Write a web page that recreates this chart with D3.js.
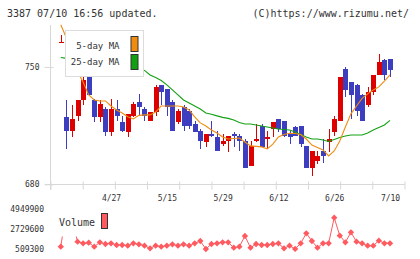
<!DOCTYPE html>
<html><head><meta charset="utf-8">
<script src="https://cdn.jsdelivr.net/npm/d3@7/dist/d3.min.js"></script>
<style>html,body{margin:0;padding:0;background:#fff;overflow:hidden}</style>
</head><body><svg id="c" width="420" height="259"></svg>
<script>
const dates = ["4/14","4/15","4/16","4/17","4/20","4/21","4/22","4/23","4/24","4/27",
  "4/28","4/30","5/1","5/7","5/8","5/11","5/12","5/13","5/14","5/15",
  "5/18","5/19","5/20","5/21","5/22","5/25","5/26","5/27","5/28","5/29",
  "6/1","6/2","6/3","6/4","6/5","6/8","6/9","6/10","6/11","6/12",
  "6/15","6/16","6/17","6/18","6/19","6/22","6/23","6/24","6/25","6/26",
  "6/29","6/30","7/1","7/2","7/3","7/6","7/7","7/8","7/9","7/10"];
const open  = [765,720,712,721,730,747,730,720,725,711,725,717,711,721,729,725,718,723,739,737,
  729,717,726,724,716,712,705,710,708,704,706,710,709,706,691,706,715,707,713,719,
  718,710,714,715,703,690,694,700,705,711,718,749,741,739,733,727,735,745,754,755];
const high  = [769,730,727,730,744,749,731,730,726,731,730,721,722,729,734,726,723,739,739,737,
  730,725,727,725,718,713,710,718,712,710,709,711,710,707,706,716,716,712,717,719,
  718,712,715,715,703,700,700,707,713,721,744,750,741,740,734,738,745,758,755,755];
const low   = [764,701,708,718,727,733,717,717,709,709,718,711,708,720,721,718,718,721,727,721,
  712,716,712,713,711,701,702,708,700,703,699,702,700,690,691,705,702,701,708,711,
  708,704,709,702,690,685,692,693,699,709,718,732,719,721,718,726,733,745,742,744];
const close = [765,712,719,730,742,733,720,728,711,725,721,712,722,728,726,721,723,738,735,726,
  712,724,715,715,711,706,710,709,700,706,709,709,706,690,703,707,702,708,717,713,
  709,708,709,704,690,700,697,697,707,719,744,736,733,724,718,735,745,753,745,748];
const ma5 = [775.1,767.3,757.2,747.0,741.0,733.3,730.3,729.7,729.7,726.7,724.3,722.5,720.3,719.0,721.1,
  721.4,721.4,723.1,726.7,726.7,726.7,726.7,726.1,724.3,720.2,716.6,714.8,712.4,710.6,708.2,
  707.0,707.3,707.6,705.2,702.9,702.6,702.3,701.1,704.0,708.2,709.7,710.4,710.3,709.7,707.0,
  703.4,702.0,700.5,696.9,699.9,705.8,714.2,722.0,726.7,731.2,733.9,736.3,738.1,741.6,745.2];
const ma25 = [755.6,755.1,754.8,754.5,754.2,753.9,753.6,753.3,752.7,752.1,751.5,750.9,750.3,749.7,748.8,
  747.9,745.2,743.7,741.9,739.3,736.3,733.3,730.3,728.5,726.7,724.9,722.5,721.8,720.8,719.9,
  719.3,718.4,716.9,716.0,716.0,715.4,714.8,714.2,713.6,713.0,712.7,712.4,711.2,709.7,708.2,
  707.0,707.0,706.4,705.5,706.7,707.9,708.8,709.4,709.4,709.4,710.6,712.4,713.9,715.4,718.1];
const volume = [764600,4949900,3900000,1319700,1142100,1208700,764600,1253100,1064400,1142100,
  953400,953400,875600,1142100,1031100,875600,587000,875600,764600,875600,
  1031100,875600,1031100,875600,1142100,1397400,509300,1064400,1142100,1253100,
  1253100,653600,764600,1952500,653600,1064400,953400,953400,1064400,1142100,
  587000,875600,520000,1142100,2252200,1397400,653600,1142100,1142100,3984100,
  1985800,1253100,2363200,1319700,1142100,875600,875600,1430700,1142100,1142100];
const dateLabels = ["4/27","5/15","5/29","6/12","6/26","7/10"];
const priceTicks = [750, 680];
const volumeTicks = [4949900, 2729600, 509300];
const legendItems = ["5-day MA", "25-day MA"];

const RED="#dd0000", BLUE="#3d3dbf", ORANGE="#f08c10", GREEN="#12a012", VOL="#ff5a5f",
      AXIS="#d8d8d8", TXT="#333", MONO="'DejaVu Sans Mono', 'Liberation Mono', monospace";

const svg = d3.select("#c");
const x = d3.scalePoint().domain(dates).range([60.8, 390]);
const y = d3.scaleLinear().domain([680, 775]).range([184.3, 25]);
const yv = d3.scaleLinear().domain([509300, 4949900]).range([249, 209]);

// header
svg.append("text").attr("x",7).attr("y",17).attr("font-family",MONO).attr("font-size",10)
  .attr("fill",TXT).text("3387 07/10 16:56 updated.");
svg.append("text").attr("x",409).attr("y",17).attr("text-anchor","end").attr("font-family",MONO)
  .attr("font-size",10).attr("fill",TXT).text("(C)https://www.rizumu.net/");

// left axis
const gy = svg.append("g").attr("transform","translate(50.5,0)")
  .call(d3.axisLeft(y).tickValues(priceTicks).tickSize(6).tickFormat(d3.format("d")));
gy.select(".domain").remove();
gy.selectAll(".tick line").attr("x1",3).attr("x2",-6).attr("stroke",AXIS);
gy.selectAll(".tick text").attr("x",-11).attr("font-family",MONO).attr("font-size",8).attr("fill",TXT);
svg.append("line").attr("x1",50.5).attr("x2",50.5).attr("y1",y.range()[1]).attr("y2",190)
  .attr("stroke",AXIS);

// bottom axis line + evenly spaced ticks
const yb = Math.round(y(680)) + 0.5;
svg.append("line").attr("x1",45).attr("x2",405).attr("y1",yb).attr("y2",yb).attr("stroke",AXIS);
const gridScale = d3.scaleLinear().domain([0, 11]).range([50.5, 404.5]);
const gt = svg.append("g").attr("transform",`translate(0,${yb})`)
  .call(d3.axisBottom(gridScale).ticks(12).tickSize(5).tickFormat(""));
gt.select(".domain").remove();
gt.selectAll(".tick line").attr("y1",-3).attr("y2",5).attr("stroke",AXIS);

// date labels
const gx = svg.append("g").attr("transform",`translate(0,${yb})`)
  .call(d3.axisBottom(x).tickValues(dateLabels).tickSize(0));
gx.select(".domain").remove();
gx.selectAll(".tick text").attr("y",10.5).attr("font-family",MONO).attr("font-size",8).attr("fill",TXT);

// candles
const cg = svg.append("g").attr("shape-rendering","crispEdges");
dates.forEach((d,i)=>{
  const xc = x(d), col = close[i] >= open[i] ? RED : BLUE;
  cg.append("line").attr("x1",Math.round(xc)+0.5).attr("x2",Math.round(xc)+0.5)
    .attr("y1",y(high[i])).attr("y2",y(low[i])).attr("stroke",col);
  const y0 = Math.min(y(open[i]), y(close[i]));
  const h = Math.max(1, Math.abs(y(open[i]) - y(close[i])));
  cg.append("rect").attr("x",Math.round(xc)-2).attr("width",5).attr("y",y0).attr("height",h).attr("fill",col);
});

// moving averages
const line = d3.line().x((v,i)=>x(dates[i])).y(v=>y(v));
svg.append("path").datum(ma25).attr("d",line).attr("fill","none").attr("stroke",GREEN).attr("stroke-width",1.1);
svg.append("path").datum(ma5).attr("d",line).attr("fill","none").attr("stroke",ORANGE).attr("stroke-width",1.1);

// legend for MAs
const lg = svg.append("g");
lg.append("rect").attr("x",65.5).attr("y",30.5).attr("width",78).attr("height",46)
  .attr("fill","#fff").attr("stroke","#dcdcdc");
[[ORANGE,48.5,36.5],[GREEN,64.5,54.5]].forEach((c,k)=>{
  lg.append("text").attr("x",119.5).attr("y",c[1]).attr("text-anchor","end").attr("font-family",MONO)
    .attr("font-size",9).attr("fill",TXT).text(legendItems[k]);
  lg.append("rect").attr("x",131).attr("y",c[2]).attr("width",7).attr("height",15)
    .attr("fill",c[0]).attr("stroke","#333");
});

// volume axis labels
volumeTicks.forEach(v=>{
  svg.append("text").attr("x",44).attr("y",yv(v)).attr("dy","0.35em").attr("text-anchor","end")
    .attr("font-family",MONO).attr("font-size",8).attr("fill",TXT).text(v);
});

// volume line + markers
const vline = d3.line().x((v,i)=>x(dates[i])).y(v=>yv(v));
svg.append("path").datum(volume).attr("d",vline).attr("fill","none").attr("stroke",VOL).attr("stroke-width",1);
svg.append("g").selectAll("path").data(volume).join("path")
  .attr("d",d3.symbol(d3.symbolSquare,20))
  .attr("transform",(v,i)=>`translate(${x(dates[i])},${yv(v)}) rotate(45)`)
  .attr("fill",VOL);

// volume legend
svg.append("rect").attr("x",52).attr("y",203).attr("width",62).attr("height",33.5).attr("fill","#fff");
svg.append("text").attr("x",59).attr("y",226).attr("font-family",MONO).attr("font-size",10)
  .attr("fill",TXT).text("Volume");
svg.append("rect").attr("x",101.5).attr("y",213.5).attr("width",6).attr("height",15)
  .attr("fill",VOL).attr("stroke","#333");
</script></body></html>
